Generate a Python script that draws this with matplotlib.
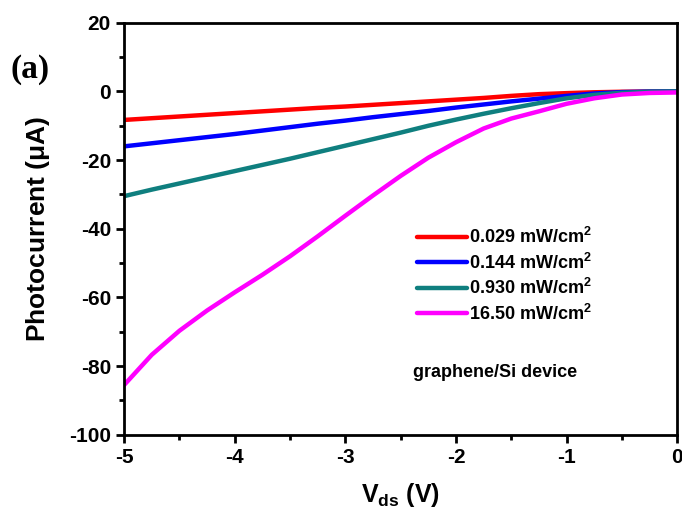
import matplotlib
matplotlib.use('Agg')
import matplotlib.pyplot as plt
from matplotlib.ticker import MultipleLocator

# photocurrent vs drain-source bias for four light intensities
v_ds = [-5.0, -4.75, -4.5, -4.25, -4.0, -3.75, -3.5, -3.25, -3.0, -2.75, -2.5,
        -2.25, -2.0, -1.75, -1.5, -1.25, -1.0, -0.75, -0.5, -0.25, 0.0]
i_029 = [-8.3, -7.8, -7.3, -6.8, -6.3, -5.8, -5.3, -4.8, -4.4, -3.9, -3.4,
         -2.9, -2.4, -1.9, -1.3, -0.8, -0.5, -0.25, -0.1, -0.03, 0.0]
i_144 = [-16.0, -15.1, -14.2, -13.3, -12.4, -11.4, -10.4, -9.4, -8.5, -7.5, -6.6,
         -5.7, -4.7, -3.8, -2.9, -2.1, -1.3, -0.6, -0.2, -0.05, 0.0]
i_930 = [-30.5, -28.6, -26.8, -25.0, -23.2, -21.4, -19.6, -17.7, -15.8, -13.9, -12.0,
         -10.0, -8.2, -6.5, -4.9, -3.4, -2.0, -1.0, -0.4, -0.1, 0.0]
i_1650 = [-85.5, -76.7, -69.7, -63.8, -58.5, -53.4, -48.0, -42.2, -36.2, -30.3, -24.6,
          -19.3, -14.8, -10.8, -7.9, -5.8, -3.6, -2.0, -0.9, -0.45, -0.3]

labels = ['0.029 mW/cm$^2$', '0.144 mW/cm$^2$', '0.930 mW/cm$^2$', '16.50 mW/cm$^2$']
colors = ['#ff0000', '#0000ff', '#0f7f7f', '#ff00ff']

plt.rcParams['font.family'] = ['Liberation Sans', 'DejaVu Sans']
plt.rcParams['axes.unicode_minus'] = False
plt.rcParams['mathtext.fontset'] = 'custom'
plt.rcParams['mathtext.rm'] = 'Liberation Sans:bold'
plt.rcParams['mathtext.it'] = 'Liberation Sans:bold'

fig = plt.figure(figsize=(6.82, 5.17), dpi=100)
ax = fig.add_axes([0.182, 0.159, 0.811, 0.797])

for ys, c, lab in zip([i_029, i_144, i_930, i_1650], colors, labels):
    ax.plot(v_ds, ys, color=c, lw=3.2, label=lab, solid_capstyle='round')

ax.set_xlim(-5, 0)
ax.set_ylim(-100, 20)
ax.xaxis.set_major_locator(MultipleLocator(1))
ax.xaxis.set_minor_locator(MultipleLocator(0.5))
ax.yaxis.set_major_locator(MultipleLocator(20))
ax.yaxis.set_minor_locator(MultipleLocator(10))
ax.tick_params(which='major', direction='out', length=6, width=2, labelsize=15)
ax.tick_params(which='minor', direction='out', length=3.5, width=2)
for lbl in ax.get_xticklabels() + ax.get_yticklabels():
    lbl.set_fontweight('bold')
for sp in ax.spines.values():
    sp.set_linewidth(2)

ax.set_xlabel('V$_{\\mathregular{ds}}$ (V)', fontsize=18, fontweight='bold', labelpad=10)
ax.set_ylabel('Photocurrent ($\\mu$A)', fontsize=19, fontweight='bold', labelpad=12)

leg = ax.legend(loc='center left', bbox_to_anchor=(0.5, 0.387), frameon=False,
                prop={'size': 13, 'weight': 'bold'}, handlelength=2.8,
                handletextpad=0.1, labelspacing=0.3)

ax.text(0.523, 0.15, 'graphene/Si device', transform=ax.transAxes,
        fontsize=13, fontweight='bold', va='center')

fig.text(0.015, 0.865, '(a)', fontsize=24, fontweight='bold',
         family='Liberation Serif', va='center')

fig.savefig('out.png', dpi=100)
